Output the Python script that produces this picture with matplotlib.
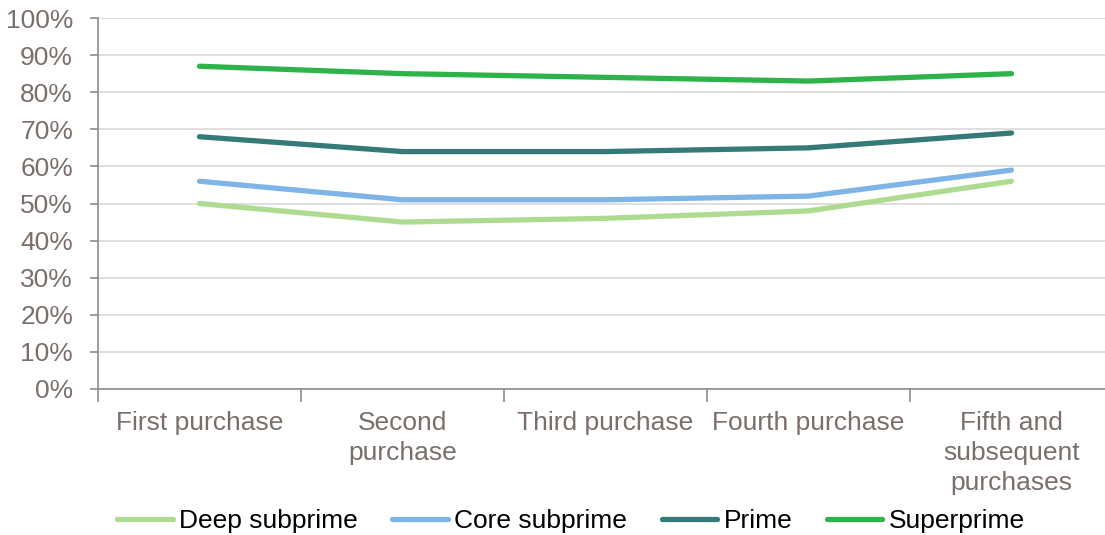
import matplotlib
matplotlib.use("Agg")
import matplotlib.pyplot as plt
import numpy as np

plt.rcParams["font.family"] = ["Liberation Sans", "DejaVu Sans"]

categories = ["First purchase", "Second\npurchase", "Third purchase",
              "Fourth purchase", "Fifth and\nsubsequent\npurchases"]
deep_subprime = [50, 45, 46, 48, 56]
core_subprime = [56, 51, 51, 52, 59]
prime = [68, 64, 64, 65, 69]
superprime = [87, 85, 84, 83, 85]

series = [
    ("Deep subprime", deep_subprime, "#ADDC91"),
    ("Core subprime", core_subprime, "#7FB5E6"),
    ("Prime", prime, "#357A78"),
    ("Superprime", superprime, "#2DB34A"),
]

text_grey = "#7A6F6A"
axis_grey = "#8C8C8C"
fs = 19

fig = plt.figure(figsize=(11.05, 5.35), dpi=100)
ax = fig.add_axes([98 / 1105, 1 - 389 / 535, 1015 / 1105, 371 / 535])

x = np.arange(len(categories))
for name, vals, col in series:
    ax.plot(x, vals, color=col, lw=3.8, solid_capstyle="round", label=name)

ax.set_xlim(-0.5, len(categories) - 0.5)
ax.set_ylim(0, 100)
ax.set_yticks(np.arange(0, 101, 10))
ax.set_yticklabels([f"{v}%" for v in range(0, 101, 10)])
ax.yaxis.grid(True, color="#D9D9D9", lw=1.2)
ax.set_axisbelow(True)

ax.set_xticks(x)
ax.set_xticklabels(categories)
ax.set_xticks(np.arange(-0.5, len(categories) + 0.5, 1), minor=True)
ax.tick_params(axis="x", which="major", length=0, pad=16, labelsize=fs, labelcolor=text_grey)
ax.tick_params(axis="x", which="minor", length=9, color=axis_grey, width=1.2)
ax.tick_params(axis="y", length=6, color=axis_grey, width=1.2, labelsize=fs,
               labelcolor=text_grey, pad=12)
for lbl in ax.get_xticklabels():
    lbl.set_linespacing(1.3)

for s in ["top", "right"]:
    ax.spines[s].set_visible(False)
for s in ["left", "bottom"]:
    ax.spines[s].set_color(axis_grey)
    ax.spines[s].set_linewidth(1.2)

fig.legend(loc="center", bbox_to_anchor=(571 / 1105, 1 - 521 / 535), ncol=4,
           frameon=False, fontsize=fs, handlelength=2.1, handletextpad=0.25,
           columnspacing=1.3)

fig.savefig("out.png", dpi=100)
